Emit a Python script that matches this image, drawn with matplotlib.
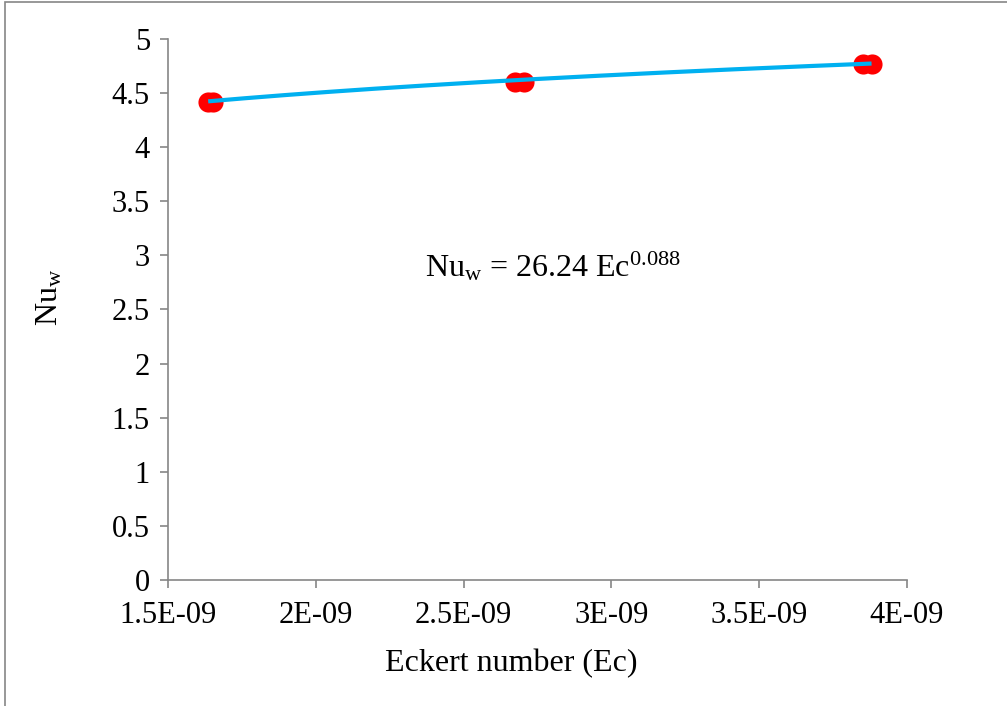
import matplotlib
matplotlib.use("Agg")
import matplotlib.pyplot as plt
import numpy as np
from matplotlib.patches import Rectangle

# Data
ec_values = [1.636e-9, 1.654e-9, 2.675e-9, 2.705e-9, 3.850e-9, 3.880e-9]
nu_values = [4.415, 4.42, 4.60, 4.605, 4.765, 4.77]
fit_coef = 26.24
fit_exp = 0.088
x_ticks = [1.5e-9, 2e-9, 2.5e-9, 3e-9, 3.5e-9, 4e-9]
x_tick_labels = ["1.5E-09", "2E-09", "2.5E-09", "3E-09", "3.5E-09", "4E-09"]
y_ticks = [0, 0.5, 1, 1.5, 2, 2.5, 3, 3.5, 4, 4.5, 5]
y_tick_labels = ["0", "0.5", "1", "1.5", "2", "2.5", "3", "3.5", "4", "4.5", "5"]

plt.rcParams['font.family'] = ['Liberation Serif', 'DejaVu Serif']
plt.rcParams['mathtext.fontset'] = 'custom'
plt.rcParams['mathtext.rm'] = 'Liberation Serif'
plt.rcParams['mathtext.it'] = 'Liberation Serif:italic'

fig = plt.figure(figsize=(10.07, 7.06), dpi=100)
ax = fig.add_axes([0.1668, 0.1785, 0.9007 - 0.1668, 0.9448 - 0.1785])

# Outer chart frame
fig.patches.append(Rectangle((5 / 1007, -0.1), 1.2, (706 - 2) / 706 + 0.1,
                             transform=fig.transFigure, fill=False,
                             edgecolor='#868686', linewidth=1.2))

ax.scatter(ec_values, nu_values, s=210, color='#FF0000', zorder=2, linewidths=0)

xfit = np.linspace(min(ec_values), max(ec_values), 200)
ax.plot(xfit, fit_coef * xfit ** fit_exp, color='#00B0F0', linewidth=3, zorder=3,
        solid_capstyle='butt')

ax.set_xlim(1.5e-9, 4e-9)
ax.set_ylim(0, 5)
ax.set_xticks(x_ticks)
ax.set_xticklabels(x_tick_labels)
ax.set_yticks(y_ticks)
ax.set_yticklabels(y_tick_labels)

for s in ['top', 'right']:
    ax.spines[s].set_visible(False)
for s in ['left', 'bottom']:
    ax.spines[s].set_color('#868686')
    ax.spines[s].set_linewidth(1.2)

ax.tick_params(axis='both', direction='out', length=6, width=1.2, color='#868686',
               labelsize=22)
ax.tick_params(axis='x', pad=9)
ax.tick_params(axis='y', pad=7)

ax.set_xlabel('Eckert number (Ec)', fontsize=23)
ax.set_ylabel(r'Nu$_{\mathrm{w}}$', fontsize=23)
ax.xaxis.set_label_coords(0.464, -0.128)
ax.yaxis.set_label_coords(-0.140, 0.523)

ax.text(2.37e-9, 2.9, r'Nu$_{\mathrm{w}}$ = 26.24 Ec$^{0.088}$', fontsize=23,
        va='center', ha='left')

fig.savefig('out.png', dpi=100)
